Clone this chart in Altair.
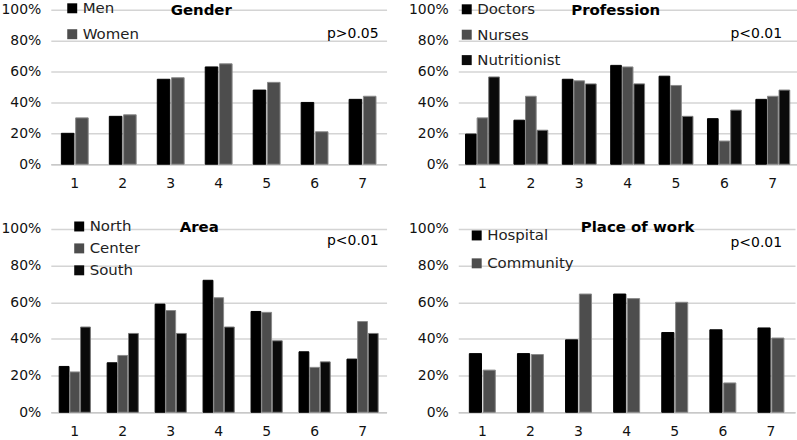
import altair as alt
import pandas as pd

items = ["1", "2", "3", "4", "5", "6", "7"]

gender_groups = ["Men", "Women"]
men = [0.20, 0.31, 0.55, 0.63, 0.48, 0.40, 0.42]
women = [0.30, 0.32, 0.56, 0.65, 0.53, 0.21, 0.44]

prof_groups = ["Doctors", "Nurses", "Nutritionist"]
doctors = [0.195, 0.285, 0.55, 0.64, 0.57, 0.295, 0.42]
nurses = [0.30, 0.44, 0.54, 0.63, 0.51, 0.15, 0.44]
nutritionist = [0.565, 0.22, 0.52, 0.52, 0.31, 0.35, 0.48]

area_groups = ["North", "Center", "South"]
north = [0.25, 0.27, 0.59, 0.72, 0.55, 0.33, 0.29]
center = [0.22, 0.31, 0.555, 0.625, 0.545, 0.245, 0.495]
south = [0.465, 0.43, 0.43, 0.465, 0.39, 0.275, 0.43]

work_groups = ["Hospital", "Community"]
hospital = [0.32, 0.32, 0.395, 0.645, 0.435, 0.45, 0.46]
community = [0.23, 0.315, 0.645, 0.62, 0.60, 0.16, 0.405]

FONT = "DejaVu Sans"


def make_df(groups, series):
    rows = []
    for g, vals in zip(groups, series):
        for it, v in zip(items, vals):
            rows.append({"item": it, "group": g, "value": v})
    return pd.DataFrame(rows)


def panel(df, groups, title, ptext, w, h, pin, opad, lx, ly, rowpad,
          tx, ty, px, py, fills, strokes):
    bars = alt.Chart(df).mark_bar(strokeWidth=1).encode(
        x=alt.X("item:N", sort=items,
                scale=alt.Scale(paddingInner=pin, paddingOuter=pin / 2),
                axis=alt.Axis(title=None, labelAngle=0, ticks=False,
                              labelPadding=12, labelFontSize=14,
                              labelColor="#111", domainColor="#c8c8c8",
                              domainWidth=1.5, grid=False)),
        xOffset=alt.XOffset("group:N", sort=groups,
                            scale=alt.Scale(paddingInner=opad)),
        y=alt.Y("value:Q", scale=alt.Scale(domain=[0, 1]),
                axis=alt.Axis(values=[0, 0.2, 0.4, 0.6, 0.8, 1.0],
                              format=".0%", title=None, ticks=False,
                              domain=False, labelPadding=10,
                              labelFontSize=14, labelColor="#111",
                              gridColor="#d4d4d4", gridWidth=1.5)),
        color=alt.Color("group:N", sort=groups,
                        scale=alt.Scale(domain=groups, range=fills),
                        legend=alt.Legend(title=None, orient="none",
                                          legendX=lx, legendY=ly,
                                          rowPadding=rowpad,
                                          symbolType="square",
                                          symbolSize=100,
                                          symbolStrokeWidth=0,
                                          labelFontSize=15,
                                          labelColor="#222",
                                          labelOffset=3,
                                          padding=0)),
        stroke=alt.Stroke("group:N", sort=groups,
                          scale=alt.Scale(domain=groups, range=strokes),
                          legend=None),
    )
    one = pd.DataFrame({"a": [0]})
    ttl = alt.Chart(one).mark_text(
        text=title, fontWeight="bold", fontSize=15, align="center",
        baseline="middle", color="#000"
    ).encode(x=alt.value(tx), y=alt.value(ty))
    ptx = alt.Chart(one).mark_text(
        text=ptext, fontSize=14, align="right", baseline="middle",
        color="#000"
    ).encode(x=alt.value(px), y=alt.value(py))
    return alt.layer(bars, ttl, ptx).properties(width=w, height=h)


p1 = panel(make_df(gender_groups, [men, women]), gender_groups, "Gender",
           "p>0.05", 337, 155, 0.44, 0.12, 14, -9, 10, 151, 0, 329, 24,
           ["#000000", "#4d4d4d"], ["#000000", "#8a8a8a"])
p2 = panel(make_df(prof_groups, [doctors, nurses, nutritionist]), prof_groups,
           "Profession", "p<0.01", 340, 155, 0.30, 0.08, 1, -8, 9.5, 158, 0,
           325, 24, ["#000000", "#4d4d4d", "#0a0a0a"],
           ["#000000", "#8a8a8a", "#777777"])
p3 = panel(make_df(area_groups, [north, center, south]), area_groups, "Area",
           "p<0.01", 337, 184, 0.35, 0.08, 21, -10, 6, 149, -2, 329, 12,
           ["#000000", "#4d4d4d", "#0a0a0a"],
           ["#000000", "#8a8a8a", "#777777"])
p4 = panel(make_df(work_groups, [hospital, community]), work_groups,
           "Place of work", "p<0.01", 338, 184, 0.46, 0.12, 11, -1, 12, 180,
           -2, 325, 14, ["#000000", "#4d4d4d"], ["#000000", "#8a8a8a"])

top = alt.hconcat(p1, p2, spacing=21).resolve_scale(
    color="independent", stroke="independent", x="independent",
    xOffset="independent", y="independent")
bottom = alt.hconcat(p3, p4, spacing=21).resolve_scale(
    color="independent", stroke="independent", x="independent",
    xOffset="independent", y="independent")

chart = alt.vconcat(top, bottom, spacing=29).resolve_scale(
    color="independent", stroke="independent", x="independent",
    xOffset="independent", y="independent"
).properties(
    padding={"left": 0, "top": 0, "right": 0, "bottom": 0}
).configure(font=FONT).configure_view(stroke=None)

chart.save("out.html", embed_options={"renderer": "svg", "actions": False})
